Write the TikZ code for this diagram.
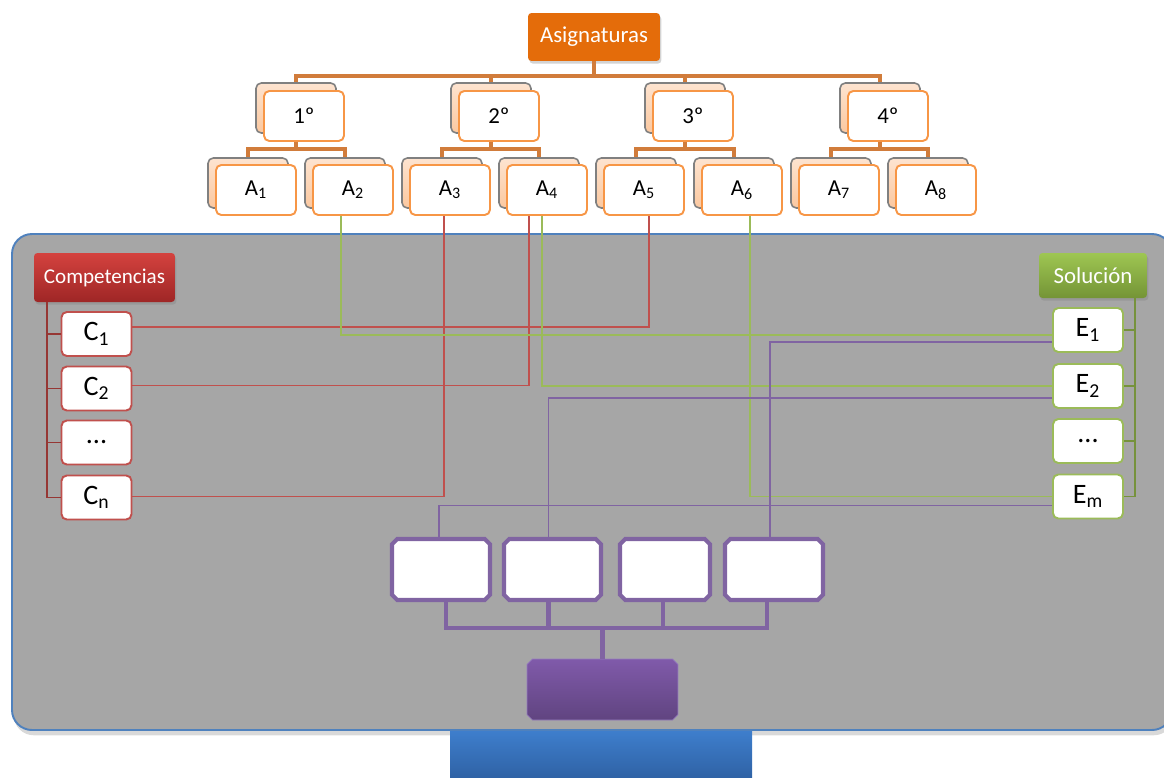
\documentclass[tikz,border=0pt]{standalone}
\usepackage{fontspec}
\setmainfont{Carlito}
\usetikzlibrary{calc,shapes.misc,shadows}
\newcommand\tridots{...}
\definecolor{asigorange}{RGB}{228,108,10}
\definecolor{treeorange}{RGB}{209,124,59}
\definecolor{boxorange}{RGB}{247,150,70}
\definecolor{peach}{RGB}{251,200,160}
\definecolor{panelgray}{RGB}{166,166,166}
\definecolor{panelblue}{RGB}{79,129,189}
\definecolor{compred}{RGB}{192,80,77}
\definecolor{darkred}{RGB}{150,55,52}
\definecolor{solgreen}{RGB}{155,187,89}
\definecolor{olivetree}{RGB}{118,146,60}
\definecolor{purp}{RGB}{128,100,162}
\tikzset{
  asigbox/.style={draw=boxorange, line width=1.1pt, fill=white, rounded corners=3pt,
    minimum width=1.6cm, minimum height=1cm, inner sep=0pt, font=\fontsize{13}{15}\selectfont},
  asigback/.style={draw=gray, line width=0.9pt, top color=peach!50, bottom color=peach,
    rounded corners=3pt, minimum width=1.6cm, minimum height=1cm},
  orgtree/.style={treeorange, line width=2.3pt},
  titlebox/.style={rounded corners=2pt, text=white, inner sep=0pt, font=\fontsize{12}{14}\selectfont,
    drop shadow={opacity=0.35, shadow xshift=0.8pt, shadow yshift=-1.5pt}},
  cbox/.style={draw=compred, line width=1.1pt, fill=white, rounded corners=3pt,
    minimum width=1.4cm, minimum height=0.88cm, inner sep=0pt, font=\fontsize{16}{18}\selectfont},
  ebox/.style={cbox, draw=solgreen},
  redlink/.style={compred, line width=1.1pt},
  greenlink/.style={solgreen, line width=1.1pt},
  purplink/.style={purp, line width=1.1pt},
  chamf/.style={chamfered rectangle, chamfered rectangle xsep=3pt, chamfered rectangle ysep=3pt, inner sep=1.5pt},
  wbox/.style={chamf, draw=purp, line width=2.3pt,
    fill=white, minimum width=1.96cm, minimum height=1.22cm},
  purtree/.style={purp, line width=2.3pt}
}
\begin{document}
\begin{tikzpicture}[x=0.02cm, y=-0.02cm]
  \useasboundingbox (0,0) rectangle (1164,778);
  \draw[panelblue, line width=1.1pt, fill=panelgray, rounded corners=0.4cm,
    drop shadow={opacity=0.3, shadow xshift=1pt, shadow yshift=-3pt}] (12,234) rectangle (1172,730);
  \fill[top color={rgb,255:red,62;green,126;blue,204}, bottom color={rgb,255:red,47;green,98;blue,165}]
    (450,731) rectangle (752,778);

  \node[titlebox, fill=asigorange, minimum width=2.64cm, minimum height=0.96cm,
    font=\fontsize{13}{15}\selectfont] (asig) at (594,37) {Asignaturas};
  \foreach \i/\x in {1/304,2/499,3/693,4/888} {
    \node[asigback] (yb\i) at (\x-8,108) {};
    \node[asigbox] (y\i) at (\x,116) {{\i}º};
  }
  \foreach \i/\x in {1/256,2/353,3/450,4/547,5/644,6/742,7/839,8/936} {
    \node[asigback] (ab\i) at (\x-8,183) {};
    \node[asigbox] (a\i) at (\x,190) {A\textsubscript{\i}};
  }
  \foreach \i in {1,...,4}
    \draw[orgtree] (asig.south) -- ++(0,15) -| (yb\i.north);
  \foreach \i/\j in {1/1,1/2,2/3,2/4,3/5,3/6,4/7,4/8}
    \draw[orgtree] (yb\i.south |- y\i.south) -- ++(0,7) -| (ab\j.north);

  \node[titlebox, top color={rgb,255:red,212;green,66;blue,62}, bottom color={rgb,255:red,158;green,38;blue,38},
    minimum width=2.82cm, minimum height=0.98cm] (comp) at (104.5,277.5) {Competencias};
  \foreach \i/\y/\t in {1/334/C\textsubscript{1},2/388.5/C\textsubscript{2},3/442.5/\tridots,4/497.5/C\textsubscript{n}}
    \node[cbox] (c\i) at (96.5,\y) {\t};
  \foreach \i in {1,...,4}
    \draw[darkred, line width=1.1pt] ($(comp.south west)+(13,0)$) |- (c\i.west);

  \node[titlebox, top color={rgb,255:red,158;green,198;blue,82}, bottom color={rgb,255:red,116;green,148;blue,54},
    minimum width=2.16cm, minimum height=0.9cm, font=\fontsize{13}{15}\selectfont] (sol) at (1093,275.5) {Solución};
  \foreach \i/\y/\t in {1/330/E\textsubscript{1},2/386/E\textsubscript{2},3/441/\tridots,4/496.5/E\textsubscript{m}}
    \node[ebox] (e\i) at (1088,\y) {\t};
  \foreach \i in {1,...,4}
    \draw[olivetree, line width=1.1pt] ($(sol.south east)+(-12,0)$) |- (e\i.east);

  \node[wbox] (w1) at (441,569.5) {};
  \node[wbox, minimum width=1.94cm] (w2) at (552.5,569.5) {};
  \node[wbox, minimum width=1.8cm] (w3) at (665,569.5) {};
  \node[wbox] (w4) at (774,569.5) {};
  \node[chamf, draw={rgb,255:red,150;green,125;blue,190},
    top color={rgb,255:red,128;green,90;blue,170}, bottom color={rgb,255:red,96;green,68;blue,128},
    minimum width=3.02cm, minimum height=1.22cm] (res) at (602.5,689.5) {};
  \foreach \i/\dx in {1/5,2/-4,3/-2,4/-7}
    \draw[purtree] ($(w\i.south)+(\dx,0)$) -- ++(0,26) -| (res.north);

  \draw[redlink] ($(c1.east)+(0,-7)$) -| ($(a5.south)+(5,0)$);
  \draw[redlink] ($(c2.east)+(0,-3)$) -| ($(a4.south)+(-18,0)$);
  \draw[redlink] ($(c4.east)+(0,-1)$) -| ($(a3.south)+(-6,0)$);
  \draw[greenlink] ($(a2.south)+(-12,0)$) |- ($(e1.west)+(0,5)$);
  \draw[greenlink] ($(a4.south)+(-5,0)$) |- (e2.west);
  \draw[greenlink] ($(a6.south)+(8,0)$) |- (e4.west);
  \draw[purplink] ($(e1.west)+(0,12)$) -| ($(w4.north)+(-4,0)$);
  \draw[purplink] ($(e2.west)+(0,12)$) -| ($(w2.north)+(-4,0)$);
  \draw[purplink] ($(e4.west)+(0,9)$) -| ($(w1.north)+(-2,0)$);
\end{tikzpicture}
\end{document}
